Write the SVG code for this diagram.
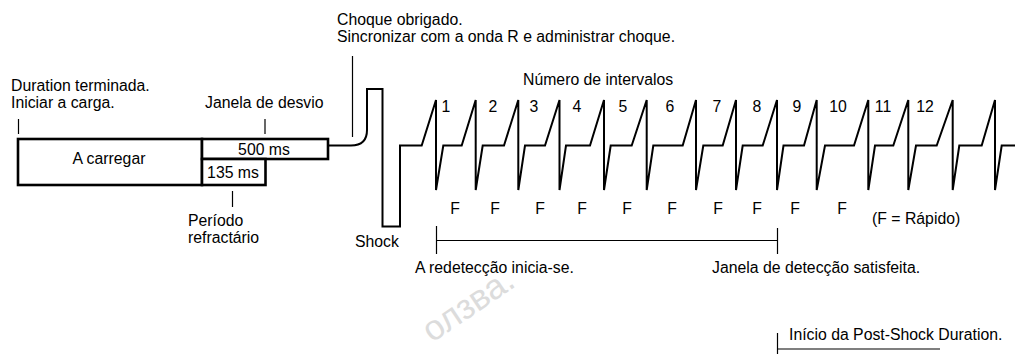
<svg xmlns="http://www.w3.org/2000/svg" width="1015" height="354" viewBox="0 0 1015 354">
<style>
text{font-family:"Liberation Sans",Arial,sans-serif;font-size:15.8px;fill:#000}
.c{text-anchor:middle}
.box{fill:#fff;stroke:#000;stroke-width:2.6}
.thin{stroke:#000;stroke-width:1.2;fill:none}
.wave{stroke:#000;stroke-width:2;fill:none;stroke-linejoin:miter}
.wm{font-size:35px;fill:#dcdcdc}
</style>
<rect width="1015" height="354" fill="#fff"/>
<text class="wm" transform="translate(432,343) rotate(-34)">олзва.</text>
<g id="charging">
<rect class="box" x="18" y="139" width="184" height="46"/>
<text class="c" x="109" y="164">A carregar</text>
</g>
<g id="window500">
<rect class="box" x="202" y="139" width="126" height="20"/>
<text class="c" x="264" y="155">500 ms</text>
</g>
<g id="refractory135">
<rect class="box" x="202" y="159" width="63.5" height="26"/>
<text class="c" x="233" y="178">135 ms</text>
</g>
<g id="labels">
<text x="11" y="91">Duration terminada.</text>
<text x="11" y="108">Iniciar a carga.</text>
<text x="205" y="108">Janela de desvio</text>
<text x="188" y="226">Período</text>
<text x="188" y="243">refractário</text>
<text x="337" y="25">Choque obrigado.</text>
<text x="337" y="42">Sincronizar com a onda R e administrar choque.</text>
<text x="523" y="85">Número de intervalos</text>
<text x="355" y="247">Shock</text>
<text x="872" y="224">(F = Rápido)</text>
<text x="415" y="273">A redetecção inicia-se.</text>
<text x="712" y="273">Janela de detecção satisfeita.</text>
<text x="789" y="340">Início da Post-Shock Duration.</text>
</g>
<g id="interval-numbers" class="c">
<text x="446" y="112">1</text>
<text x="493" y="112">2</text>
<text x="534" y="112">3</text>
<text x="577" y="112">4</text>
<text x="623" y="112">5</text>
<text x="670" y="112">6</text>
<text x="717" y="112">7</text>
<text x="757" y="112">8</text>
<text x="797" y="112">9</text>
<text x="838" y="112">10</text>
<text x="883" y="112">11</text>
<text x="925" y="112">12</text>
</g>
<g id="fast-marks" class="c">
<text x="455" y="214">F</text>
<text x="495" y="214">F</text>
<text x="540" y="214">F</text>
<text x="582" y="214">F</text>
<text x="627" y="214">F</text>
<text x="672" y="214">F</text>
<text x="718" y="214">F</text>
<text x="757" y="214">F</text>
<text x="795" y="214">F</text>
<text x="842" y="214">F</text>
</g>
<g id="connectors">
<line class="thin" x1="18.5" y1="119" x2="18.5" y2="134"/>
<line class="thin" x1="265" y1="119" x2="265" y2="134"/>
<line class="thin" x1="232.5" y1="191" x2="232.5" y2="207"/>
<line class="thin" x1="352.5" y1="56" x2="352.5" y2="137"/>
<line class="thin" x1="436.5" y1="226" x2="436.5" y2="254"/>
<line class="thin" x1="436.5" y1="240.5" x2="777.5" y2="240.5"/>
<line class="thin" x1="777.5" y1="228" x2="777.5" y2="254"/>
<line class="thin" x1="777.5" y1="333" x2="777.5" y2="354"/>
<line class="thin" x1="777.5" y1="349" x2="940" y2="349"/>
<path class="wave" d="M328,145.5 H351 Q367,145.5 367,130 V89 H382.5 V226.5 H400 V145.5 H421.7
L436,100 V190 L443.3,145.5 H461.7
L475.7,100 V190 L482.7,145.5 H504
L518.3,100 V190 L525,145.5 H545
L559.5,100 V190 L566,145.5 H590
L604,100 V190 L610.7,145.5 H631.7
L646.7,100 V190 L653.3,145.5 H682.7
L696,100 V190 L703.3,145.5 H722.7
L736,100 V190 L742.7,145.5 H762.7
L777,100 V190 L783.5,145.5 H804
L816.7,100 V190 L825,145.5 H854
L868.3,100 V190 L875,145.5 H893.3
L908.3,100 V190 L916,145.5 H936.7
L952.7,100 V190 L959.3,145.5 H981.7
L995,100 V190 L1001.7,145.5 H1016"/>
</g>
</svg>
